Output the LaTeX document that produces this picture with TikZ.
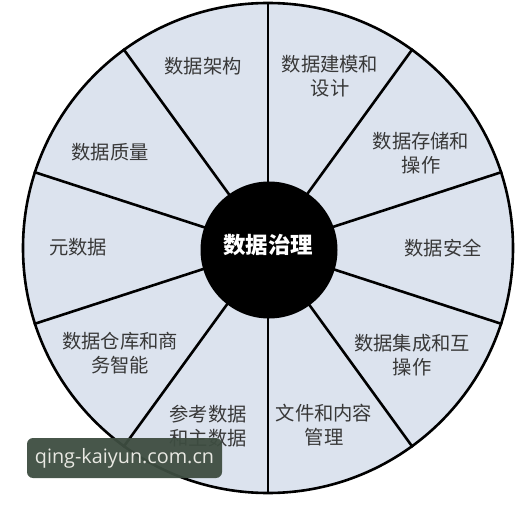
\documentclass[tikz,border=0pt]{standalone}
\usepackage{fontspec}
\setmainfont{Noto Sans CJK SC}
\newfontfamily\wmfont{Open Sans}
\definecolor{sectorfill}{HTML}{DCE3EE}
\definecolor{labeltext}{HTML}{383838}
\definecolor{wmfill}{HTML}{3E4D41}
\definecolor{wmtext}{HTML}{E8E8E2}
\begin{document}
\begin{tikzpicture}[x=1pt,y=-1pt,
  rimstyle/.style={circle,draw=black,line width=2.6pt,fill=sectorfill,minimum size=490pt,inner sep=0pt},
  hubstyle/.style={circle,fill=black,minimum size=137pt,inner sep=0pt},
  divider/.style={line width=2.6pt,draw=black},
  lab/.style={align=center,font=\fontsize{19.3}{23.5}\selectfont,text=labeltext,inner sep=0pt},
  wmbox/.style={rounded corners=6pt,fill=wmfill,fill opacity=0.95,text opacity=1,text=wmtext,font=\wmfont\fontsize{19.8}{22}\selectfont,minimum width=195pt,minimum height=40pt,inner sep=0pt}]
\useasboundingbox (0,0) rectangle (525,505);
\fill[white] (0,0) rectangle (525,505);
\node[rimstyle] (rim) at (268,248) {};
\foreach \a in {90,54,18,-18,-54,-90,-126,-162,162,126}
  \draw[divider] (268,248) -- (rim.\a);
\node[hubstyle] (hub) at (269,250) {};
\node[text=white,font=\fontsize{22.5}{24}\selectfont\bfseries,inner sep=0pt] (hubtext) at (268,245) {数据治理};
\node[lab] (l1) at (203,66) {数据架构};
\node[lab] (l2) at (330,76) {数据建模和\\设计};
\node[lab] (l3) at (421,153) {数据存储和\\操作};
\node[lab] (l4) at (443,248) {数据安全};
\node[lab] (l5) at (412,355) {数据集成和互\\操作};
\node[lab] (l6) at (324,425) {文件和内容\\管理};
\node[lab] (l7) at (208,426) {参考数据\\和主数据};
\node[lab] (l8) at (120,353) {数据仓库和商\\务智能};
\node[lab] (l9) at (78,247) {元数据};
\node[lab] (l10) at (110,152) {数据质量};
\node[wmbox] (wm) at (124.5,458) {qing-kaiyun.com.cn};
\end{tikzpicture}
\end{document}
